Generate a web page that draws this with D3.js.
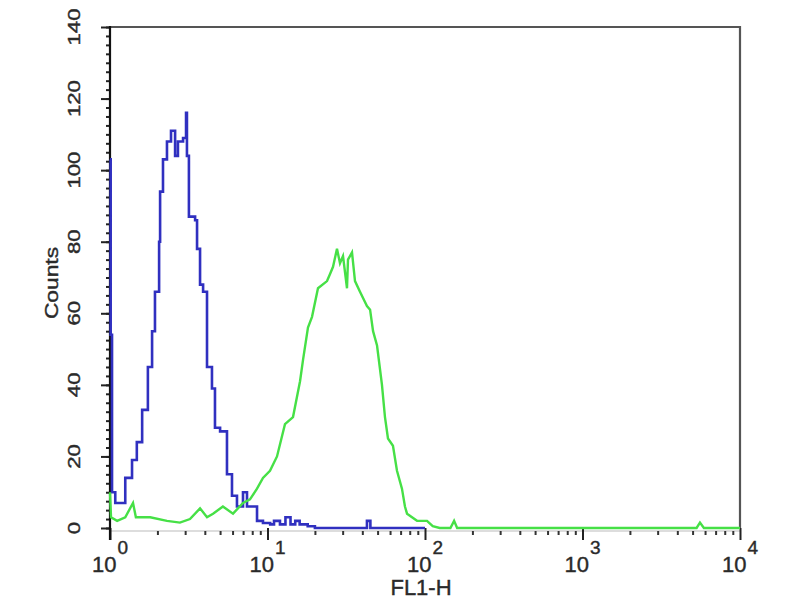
<!DOCTYPE html>
<html>
<head>
<meta charset="utf-8">
<script src="https://cdn.jsdelivr.net/npm/d3@7/dist/d3.min.js"></script>
<style>
  body { margin: 0; background: #fff; }
  svg { display: block; }
  text { font-family: Arial, "Liberation Sans", sans-serif; fill: #2a2a2a; stroke: #2a2a2a; stroke-width: 0.4px; }
</style>
</head>
<body>
<div id="view"></div>
<script>
// control (blue) histogram: FL1-H channel value, counts
const blueX = [1.0, 1.01, 1.03, 1.08, 1.25, 1.38, 1.48, 1.6, 1.74, 1.85, 1.93, 2.05, 2.08, 2.17, 2.3, 2.44,
  2.59, 2.7, 2.91, 3.04, 3.08, 3.17, 3.47, 3.57, 3.73, 3.9, 4.13, 4.44, 4.64, 5.0, 5.53, 5.95, 6.4, 6.99,
  7.41, 8.58, 9.36, 10.4, 11, 12, 13, 14, 15, 16, 18, 20, 40, 42.8, 45, 100];
const blueY = [103, 54, 10, 7, 14, 19, 24, 33, 45, 55, 66, 80, 94, 103, 108, 111,
  104, 108, 109, 116, 104, 87, 86, 78, 68, 66, 45, 39, 28, 27, 15, 9, 6, 10,
  6, 2, 1.4, 1, 2, 1, 3, 1, 2, 1, 0.5, 0, 0, 2, 0, 0];

// stained (green) histogram
const greenX = [1.0, 1.015, 1.11, 1.25, 1.4, 1.46, 1.8, 2.3, 2.78, 3.22, 3.73, 4.13, 4.51, 5.21, 6.04, 6.99,
  7.74, 8.58, 9.36, 10.37, 11.49, 12.91, 14.52, 16.09, 16.81, 18.07, 19.17, 20.92, 23.87, 24.95, 26.06,
  27.62, 28.86, 30.16, 31.97, 32.44, 34.4, 35.94, 38.66, 42.8, 44.8, 46.8, 49.6, 53.3, 55.7, 58.2, 62.6,
  66.4, 71.4, 74.6, 76.9, 89, 103, 112, 124, 145, 153, 160, 5300, 5570, 5900, 10000];
const greenY = [10, 3, 2, 3, 7, 3, 3, 2, 1.5, 2.5, 5.5, 3, 4, 6, 4, 7,
  8, 11, 14, 16, 20, 29, 31, 41, 47, 56, 59, 67, 69, 71, 73,
  78, 74, 76, 67, 75, 77, 69, 66, 62, 61, 55, 51, 40, 31, 25, 23,
  16, 11, 6, 4, 2, 2, 0.5, 0, 0, 2, 0, 0, 1.5, 0, 0];

const yMajor = [0, 20, 40, 60, 80, 100, 120, 140];
const xMajor = [1, 10, 100, 1000, 10000];
const xExp = ['0', '1', '2', '3', '4'];

const W = 800, H = 600;
const margin = {top: 27, right: 60, bottom: 72, left: 110};
const svg = d3.select('#view').append('svg').attr('width', W).attr('height', H);

const x = d3.scaleLog().domain([1, 10000]).range([margin.left, W - margin.right]);
const y = d3.scaleLinear().domain([0, 140]).range([H - margin.bottom, margin.top]);

// frame: top and right
svg.append('path')
  .attr('d', `M${x(1)},${y(140)}H${x(10000)}V${y(0)}`)
  .attr('fill', 'none').attr('stroke', '#555').attr('stroke-width', 2.2);

// x axis base line
svg.append('line')
  .attr('x1', x(1)).attr('x2', x(10000)).attr('y1', y(0) + 3).attr('y2', y(0) + 3)
  .attr('stroke', '#bbb').attr('stroke-width', 1);

// x minor ticks
const xMinor = [];
for (let d = 1; d < 10000; d *= 10) for (let k = 2; k < 10; k++) xMinor.push(d * k);
svg.append('g')
  .attr('transform', `translate(0,${y(0) + 3})`)
  .call(d3.axisBottom(x).tickValues(xMinor).tickSize(4).tickFormat(''))
  .call(g => g.select('.domain').remove())
  .selectAll('line').attr('stroke', '#333').attr('stroke-width', 2);

svg.append('g')
  .attr('transform', `translate(0,${y(0)})`)
  .call(d3.axisBottom(x).tickValues(xMajor).tickSize(12).tickFormat(''))
  .call(g => g.select('.domain').remove())
  .selectAll('line').attr('stroke', '#222').attr('stroke-width', 2);

const xl = svg.append('g').selectAll('text').data(xMajor).join('text')
  .attr('x', d => x(d) - 18)
  .attr('y', 572)
  .style('font-size', '22px');
xl.append('tspan').text('10');
xl.append('tspan').attr('dx', 1).attr('dy', -18).style('font-size', '19px').text((d, i) => xExp[i]);

svg.append('text')
  .attr('x', 421).attr('y', 595)
  .attr('text-anchor', 'middle')
  .style('font-size', '22px')
  .text('FL1-H');

// y axis
svg.append('g')
  .attr('transform', `translate(${x(1)},0)`)
  .call(d3.axisLeft(y).tickValues(d3.range(0, 140.1, 2.5)).tickSize(4).tickFormat(''))
  .call(g => g.select('.domain').remove())
  .selectAll('line').attr('stroke', '#222').attr('stroke-width', 2);

svg.append('g')
  .attr('transform', `translate(${x(1)},0)`)
  .call(d3.axisLeft(y).tickValues(yMajor).tickSize(9).tickFormat(''))
  .call(g => g.select('.domain').remove())
  .selectAll('line').attr('stroke', '#222').attr('stroke-width', 2);

svg.append('line')
  .attr('x1', x(1)).attr('x2', x(1)).attr('y1', y(140) - 1).attr('y2', y(0) + 12)
  .attr('stroke', '#111').attr('stroke-width', 2.2);

svg.append('g').selectAll('g').data(yMajor).join('g')
  .attr('transform', d => `translate(80,${y(d)}) rotate(-90) scale(1.3,1)`)
  .append('text')
  .attr('text-anchor', 'middle')
  .style('font-size', '17px')
  .text(d => d);

svg.append('g')
  .attr('transform', `translate(58,283) rotate(-90) scale(1.2,1)`)
  .append('text')
  .attr('text-anchor', 'middle')
  .style('font-size', '19px')
  .text('Counts');

// histograms
const blue = blueX.map((v, i) => [v, blueY[i]]);
const green = greenX.map((v, i) => [v, greenY[i]]);

svg.append('path')
  .datum(blue)
  .attr('fill', 'none')
  .attr('stroke', '#3030c0')
  .attr('stroke-width', 2.6)
  .attr('d', d3.line().x(d => x(d[0])).y(d => y(d[1])).curve(d3.curveStepAfter));

svg.append('path')
  .datum(green)
  .attr('fill', 'none')
  .attr('stroke', '#46e046')
  .attr('stroke-width', 2.4)
  .attr('d', d3.line().x(d => x(d[0])).y(d => y(d[1])));
</script>
</body>
</html>
